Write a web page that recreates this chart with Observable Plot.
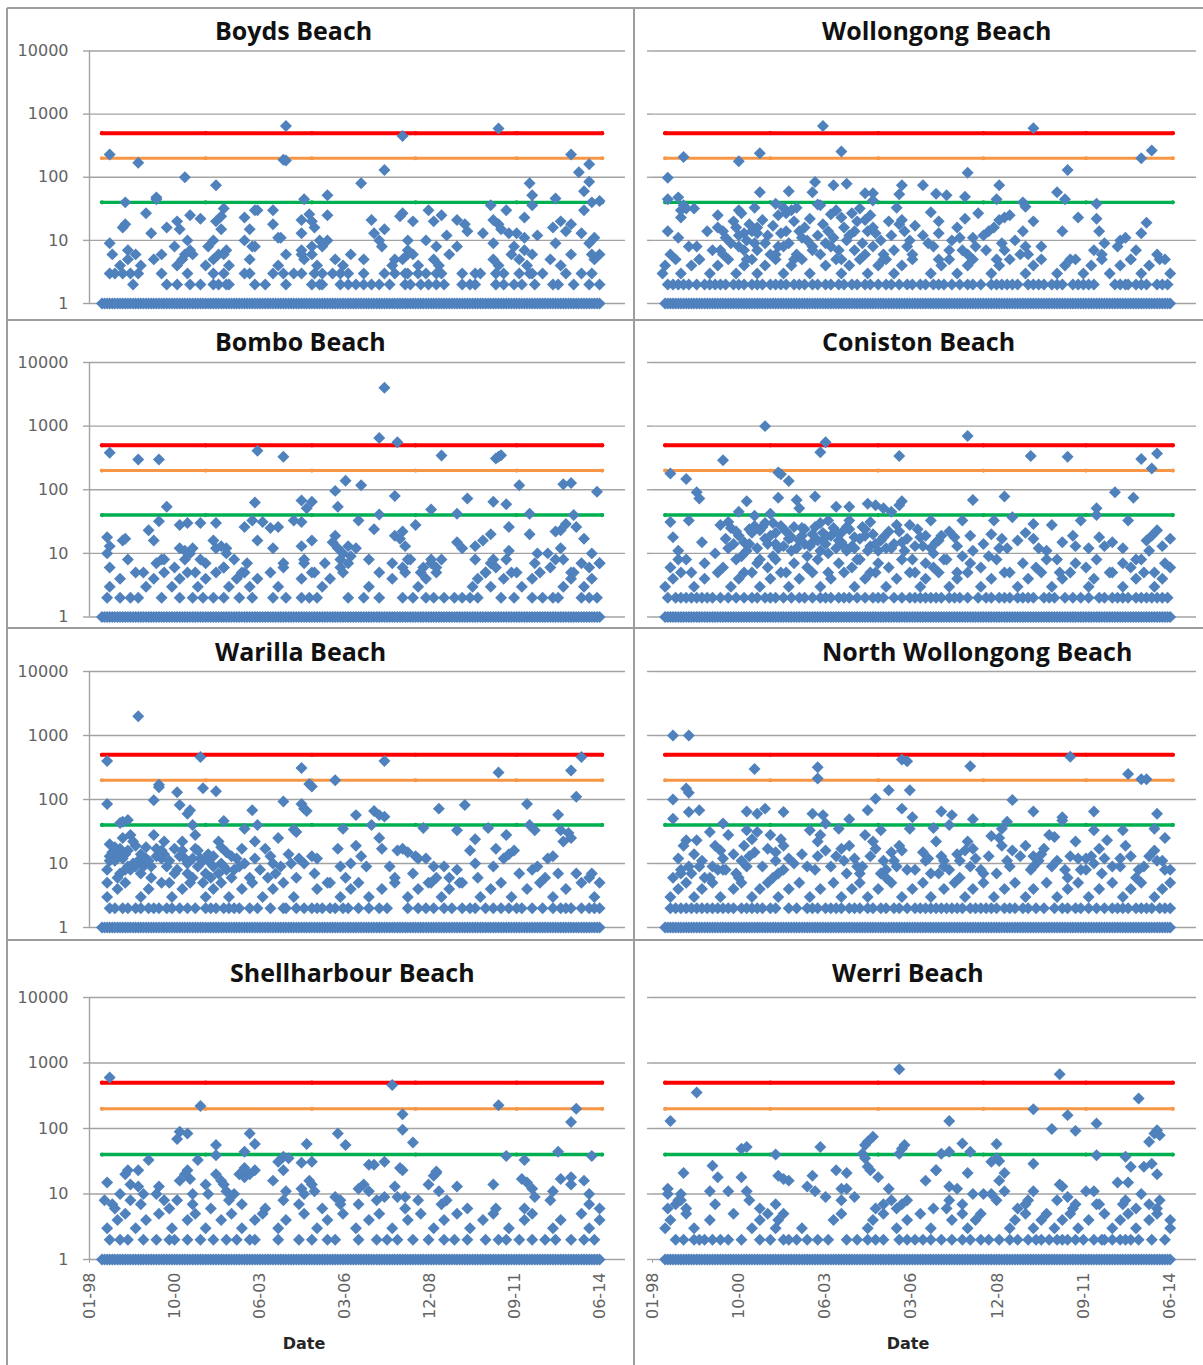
<!DOCTYPE html>
<html>
<head>
<meta charset="utf-8">
<script src="https://cdn.jsdelivr.net/npm/d3@7"></script>
<script src="https://cdn.jsdelivr.net/npm/@observablehq/plot@0.6"></script>
<style>
  html, body { margin: 0; padding: 0; background: #fff; }
  #page { position: relative; width: 1203px; height: 1365px; overflow: hidden; background: #fff; }
  .cell { position: absolute; }
  #overlay { position: absolute; left: 0; top: 0; pointer-events: none; }
</style>
</head>
<body>
<div id="page"></div>
<script>
// Enterococci results (cfu/100 mL) at Illawarra beaches.
// x = months since January 1998, value = sample result. Results of 1 or less sit on the baseline.

// Sampling rounds with a result of 1 or less
const sampleMonths = [
  5,6,7,8,9,10,11,12,13,14,15,16,17,18,19,20,21,22,23,24,25,26,27,28,29,30,31,32,33,34,35,36,37,38,39,40,
  41,42,43,44,45,46,47,48,49,50,51,52,53,54,55,56,57,58,59,60,61,62,63,64,65,66,67,68,69,70,71,72,73,74,75,
  76,77,78,79,80,81,82,83,84,85,86,87,88,89,90,91,92,93,94,95,96,97,98,99,100,101,102,103,104,105,106,107,
  108,109,110,111,112,113,114,115,116,117,118,119,120,121,122,123,124,125,126,127,128,129,130,131,132,133,
  134,135,136,137,138,139,140,141,142,143,144,145,146,147,148,149,150,151,152,153,154,155,156,157,158,159,
  160,161,162,163,164,165,166,167,168,169,170,171,172,173,174,175,176,177,178,179,180,181,182,183,184,185,
  186,187,188,189,190,191,192,193,194,195,196,197
];

const boyds = [
  [8,230],[19,170],[37,100],[49,75],[76,650],[75,190],[76,185],[121,450],[114,130],[105,80],[92,52],[158,590],
  [170,80],[171,52],[171,36],[186,230],[189,120],[193,160],[193,85],[191,60],[197,42],[194,40],[180,46],[83,45],
  [155,36],[14,40],[26,45],[26,48],[52,32],[92,25],
  [8,9],[13,16],[14,18],[22,27],[24,13],[30,16],[34,20],[35,15],[39,25],[38,10],[43,22],[49,20],[51,24],[48,10],
  [51,15],[60,23],[64,30],[65,30],[62,15],[60,10],[63,8],[71,30],[71,18],[73,11],[74,11],[82,21],[85,26],[86,20],
  [87,16],[82,13],[89,10],[92,10],[82,6],[86,8],[109,21],[110,13],[114,15],[112,10],[113,8],[118,5],[121,27],
  [120,24],[123,10],[125,20],[130,10],[131,30],[133,20],[136,25],[134,8],[138,12],[142,21],[145,18],[146,14],
  [142,8],[152,13],[156,21],[158,18],[159,15],[162,13],[156,9],[161,30],[165,13],[168,23],[168,11],[173,12],
  [179,16],[182,20],[186,18],[180,9],[184,14],[191,30],[190,13],[195,11],[193,9],
  [17,2],[30,2],[34,2],[39,2],[43,2],[48,2],[50,2],[53,2],[54,2],[64,2],[68,2],[76,2],[86,2],[89,2],[90,2],
  [97,2],[100,2],[103,2],[106,2],[109,2],[112,2],[116,2],[122,2],[124,2],[128,2],[131,2],[134,2],[137,2],
  [144,2],[147,2],[149,2],[157,2],[160,2],[164,2],[167,2],[172,2],[179,2],[181,2],[187,2],[193,2],[197,2],
  [8,3],[10,3],[13,3],[16,3],[19,3],[28,3],[38,3],[48,3],[52,3],[60,3],[62,3],[71,3],[75,3],[79,3],[82,3],
  [87,3],[90,3],[94,3],[97,3],[100,3],[106,3],[114,3],[118,3],[122,3],[123,3],[127,3],[130,3],[134,3],[136,3],
  [144,3],[149,3],[151,3],[157,3],[160,3],[166,3],[170,3],[171,3],[175,3],[184,3],[190,3],[194,3],
  [12,4],[15,5],[18,6],[20,4],[25,5],[28,6],[34,4],[36,5],[40,6],[45,4],[48,5],[52,6],[54,4],[62,5],[73,4],
  [83,5],[86,6],[88,4],[95,5],[98,4],[101,6],[106,5],[117,4],[121,5],[123,6],[127,4],[133,5],[135,4],[139,6],
  [156,5],[158,4],[163,6],[166,5],[169,4],[171,6],[178,5],[182,4],[186,6],[195,5],[197,6],
  [9,6],[15,7],[33,8],[37,6],[39,7],[46,8],[50,6],[53,7],[64,8],[76,6],[82,7],[90,8],[123,7],[125,6],[164,8],
  [168,7],[194,6]
];

const wollongong = [
  [65,650],[145,600],[12,210],[33,180],[41,240],[72,255],[186,200],[190,265],[120,118],[158,130],[6,98],[6,45],
  [10,48],[12,36],[13,32],[16,32],[41,58],[52,60],[61,58],[62,84],[64,36],[69,75],[74,79],[81,56],[84,56],
  [95,75],[94,54],[103,75],[108,55],[112,52],[119,49],[132,75],[131,45],[141,40],[142,34],[154,58],[157,45],
  [169,38],[63,37],[84,43],
  [6,14],[10,11],[11,23],[11,30],[17,8],[21,14],[25,25],[25,16],[27,14],[32,16],[33,30],[34,27],[35,13],[36,10],
  [38,14],[39,33],[40,16],[40,13],[43,9],[47,38],[48,25],[49,13],[50,33],[51,27],[53,30],[54,20],[55,33],[56,14],
  [57,11],[59,10],[61,8],[67,14],[70,30],[72,23],[73,16],[74,10],[76,27],[77,14],[79,32],[81,21],[82,14],[83,25],
  [85,13],[88,6],[93,33],[94,18],[95,21],[97,8],[106,28],[109,20],[109,13],[114,10],[117,11],[119,22],[122,11],
  [124,27],[128,14],[130,16],[132,21],[134,23],[136,25],[141,14],[142,8],[145,20],[156,14],[162,23],[169,22],
  [170,14],[172,9],[178,10],[180,11],[186,13],[188,19],
  [26,7],[28,11],[30,9],[31,20],[33,12],[35,7],[37,18],[39,9],[42,21],[44,12],[45,6],[46,17],[48,8],[51,14],
  [52,9],[55,6],[58,16],[60,22],[63,12],[65,18],[66,9],[68,26],[69,11],[71,7],[75,12],[78,20],[80,9],[84,16],
  [87,10],[90,20],[91,12],[96,14],[98,10],[100,17],[103,12],[105,9],[116,16],[118,7],[126,12],[127,7],[133,9],
  [138,10],[140,6],
  [6,2],[10,2],[14,2],[17,2],[22,2],[26,2],[28,2],[31,2],[38,2],[42,2],[45,2],[49,2],[56,2],[58,2],[61,2],
  [63,2],[71,2],[73,2],[81,2],[83,2],[86,2],[89,2],[94,2],[97,2],[102,2],[109,2],[111,2],[114,2],[117,2],
  [129,2],[131,2],[135,2],[139,2],[143,2],[149,2],[152,2],[154,2],[162,2],[164,2],[168,2],[178,2],[181,2],
  [184,2],[192,2],[196,2],
  [8,2],[12,2],[20,2],[24,2],[33,2],[35,2],[40,2],[47,2],[51,2],[54,2],[66,2],[68,2],[76,2],[78,2],[91,2],
  [99,2],[104,2],[107,2],[120,2],[122,2],[125,2],[133,2],[137,2],[145,2],[147,2],[156,2],[160,2],[166,2],
  [176,2],[180,2],[186,2],[188,2],[194,2],
  [4,3],[5,4],[9,5],[11,3],[15,4],[18,5],[22,3],[25,4],[29,5],[32,3],[35,4],[38,5],[40,3],[43,4],[47,5],[50,3],
  [53,4],[57,5],[60,3],[66,4],[70,5],[72,3],[75,4],[79,5],[82,3],[86,4],[89,5],[92,3],[95,4],[99,5],[106,3],
  [110,4],[113,5],[116,3],[120,4],[122,5],[129,3],[132,4],[136,5],[142,3],[145,4],[148,5],[154,3],[157,4],
  [159,5],[164,3],[167,4],[171,5],[174,3],[178,4],[182,5],[186,3],[189,4],[193,5],[197,3],
  [7,6],[14,8],[18,5],[23,7],[27,6],[33,8],[36,5],[40,7],[47,6],[50,8],[54,5],[61,7],[64,6],[68,8],[72,5],
  [77,7],[81,6],[84,8],[88,5],[92,7],[99,6],[107,8],[109,5],[113,7],[120,6],[123,8],[131,5],[134,7],[143,6],
  [148,8],[161,5],[168,7],[171,6],[177,8],[182,5],[184,7],[192,6],[195,5]
];

const bombo = [
  [114,4000],[112,650],[119,560],[8,380],[19,300],[27,300],[65,410],[75,330],[136,345],[157,310],[159,350],
  [158,330],[99,138],[105,118],[95,96],[118,80],[166,118],[183,122],[186,128],[196,93],[146,73],[156,65],
  [161,59],[64,63],[30,54],[96,54],[132,49],[142,42],[170,42],[187,40],[112,41],[82,68],[86,65],[84,51],
  [82,31],[79,33],[27,32],[63,33],[67,31],[104,33],[110,24],[126,28],[162,26],[180,22],[182,23],[184,29],
  [188,26],[49,30],[60,26],[43,30],[35,28],[38,30],[70,25],[73,26],
  [7,18],[8,13],[7,10],[13,16],[14,17],[23,23],[25,16],[29,8],[28,8],[35,12],[37,11],[39,10],[40,12],[43,8],
  [48,16],[49,12],[51,13],[53,12],[53,10],[52,6],[65,16],[71,12],[75,7],[82,13],[86,16],[83,7],[95,19],[94,15],
  [96,12],[98,10],[97,8],[100,13],[101,9],[100,7],[103,12],[118,19],[120,17],[122,13],[121,22],[123,8],[142,15],
  [144,12],[149,13],[152,16],[155,20],[156,8],[162,11],[170,20],[173,10],[177,10],[182,12],[183,8],[191,17],
  [194,10],[197,7],[136,8],[132,8],[129,6],
  [7,2],[12,2],[16,2],[19,2],[28,2],[35,2],[40,2],[44,2],[48,2],[52,2],[58,2],[63,2],[71,2],[76,2],[82,2],
  [85,2],[88,2],[100,2],[106,2],[112,2],[121,2],[125,2],[130,2],[133,2],[137,2],[141,2],[144,2],[147,2],
  [150,2],[159,2],[164,2],[171,2],[175,2],[179,2],[181,2],[190,2],[193,2],[196,2],
  [8,3],[12,4],[18,5],[22,3],[25,4],[29,5],[32,3],[35,4],[38,5],[42,3],[45,4],[49,5],[54,3],[57,4],[60,5],
  [62,3],[65,4],[70,5],[73,3],[82,4],[87,5],[90,3],[93,4],[98,5],[108,3],[117,4],[122,5],[127,3],[130,4],
  [134,5],[148,3],[150,4],[153,5],[155,3],[160,4],[163,5],[167,3],[171,4],[174,5],[183,3],[186,4],[187,5],
  [191,3],[194,4],
  [8,6],[15,8],[21,5],[26,7],[33,6],[37,8],[41,5],[45,7],[52,6],[56,8],[59,5],[61,7],[75,6],[83,8],[86,5],
  [91,7],[97,6],[108,8],[112,5],[117,7],[121,6],[124,8],[128,5],[132,7],[134,6],[149,8],[153,5],[155,7],
  [157,6],[161,8],[165,5],[172,7],[178,6],[180,8],[186,5],[190,7],[193,6],[197,7]
];

const coniston = [
  [43,1000],[120,700],[66,560],[64,390],[27,290],[94,340],[144,340],[158,330],[186,305],[192,370],[190,215],
  [7,180],[13,147],[48,187],[49,175],[52,137],[17,91],[18,73],[62,78],[122,69],[134,78],[176,91],[183,75],
  [36,66],[48,75],[55,69],[56,51],[70,54],[75,54],[82,60],[85,57],[88,51],[91,45],[95,66],[94,57],[118,33],
  [137,37],[169,51],[169,40],[181,33],[7,31],[14,33],[26,28],[29,31],[33,45],[39,39],[45,42],[67,33],[75,33],
  [83,31],[93,28],[98,28],[106,33],[130,33],[145,29],[152,28],[163,33],[192,23],
  [8,18],[10,11],[13,8],[19,15],[24,10],[29,12],[33,19],[35,15],[36,11],[38,21],[40,12],[41,8],[43,17],[46,9],
  [47,21],[50,13],[52,17],[53,11],[55,12],[57,19],[59,9],[61,15],[64,11],[68,19],[70,12],[72,21],[74,11],
  [76,13],[78,8],[81,19],[83,13],[86,11],[89,12],[95,15],[96,11],[99,8],[104,19],[107,10],[110,19],[111,8],
  [115,18],[118,9],[122,11],[129,20],[132,12],[133,17],[142,21],[145,17],[150,11],[154,8],[156,15],[161,13],
  [170,18],[172,13],[179,12],[188,16],[189,11],[194,13],[197,17],[184,8],
  [30,25],[31,14],[37,24],[39,27],[42,26],[44,14],[46,30],[48,12],[51,22],[54,26],[56,16],[58,24],[60,13],
  [62,26],[63,16],[65,21],[66,14],[69,25],[71,16],[73,13],[75,24],[77,18],[80,26],[82,11],[84,20],[87,16],
  [90,22],[92,14],[97,17],[101,24],[103,13],[108,15],[113,22],[116,13],[121,19],[126,14],[128,9],[135,12],
  [139,16],[147,12],[160,19],[166,12],[175,15],[190,19],
  [28,17],[32,22],[34,9],[37,14],[41,23],[43,30],[45,19],[47,14],[49,27],[53,18],[57,25],[58,14],[61,20],
  [64,30],[66,18],[67,10],[70,22],[72,15],[74,26],[77,12],[79,17],[81,24],[85,14],[88,18],[91,12],[94,22],
  [100,13],[102,18],[106,12],[109,16],
  [6,2],[13,2],[17,2],[21,2],[23,2],[29,2],[32,2],[38,2],[43,2],[47,2],[53,2],[56,2],[64,2],[68,2],[71,2],
  [75,2],[84,2],[88,2],[92,2],[98,2],[102,2],[106,2],[110,2],[113,2],[117,2],[120,2],[124,2],[129,2],[132,2],
  [136,2],[141,2],[145,2],[149,2],[153,2],[157,2],[166,2],[170,2],[172,2],[177,2],[181,2],[184,2],[188,2],
  [192,2],[196,2],
  [9,2],[11,2],[15,2],[19,2],[26,2],[35,2],[40,2],[45,2],[50,2],[58,2],[61,2],[66,2],[73,2],[78,2],[81,2],
  [86,2],[95,2],[100,2],[104,2],[108,2],[115,2],[127,2],[134,2],[139,2],[143,2],[151,2],[160,2],[163,2],
  [175,2],[179,2],[186,2],[190,2],[194,2],
  [5,3],[8,4],[11,5],[16,3],[20,4],[25,5],[30,3],[33,4],[38,5],[41,3],[45,4],[49,5],[52,3],[56,4],[61,5],
  [64,3],[68,4],[73,5],[77,3],[81,4],[85,5],[89,3],[93,4],[98,5],[102,3],[104,4],[109,5],[113,3],[116,4],
  [120,5],[125,3],[129,4],[134,5],[139,3],[143,4],[148,5],[152,3],[156,4],[159,5],[166,3],[168,4],[175,5],
  [179,3],[184,4],[187,5],[191,3],[194,4],
  [7,6],[10,8],[15,5],[20,7],[27,6],[32,8],[35,5],[40,7],[44,6],[47,8],[51,5],[54,7],[59,6],[63,8],[67,5],
  [71,7],[76,6],[79,8],[83,5],[86,7],[90,6],[95,8],[100,5],[104,7],[107,6],[112,8],[116,5],[121,7],[125,6],
  [131,8],[136,5],[141,7],[146,6],[150,8],[155,5],[161,7],[165,6],[169,8],[174,5],[179,7],[182,6],[186,8],
  [191,5],[195,7],[197,6]
];

const warilla = [
  [19,2000],[7,400],[43,460],[114,400],[190,460],[82,310],[158,265],[186,285],[95,200],[85,175],[86,160],
  [27,170],[27,155],[44,150],[49,135],[34,130],[188,110],[25,97],[7,85],[75,93],[82,85],[83,72],[84,66],[35,82],
  [135,72],[145,82],[169,85],[103,57],[110,66],[112,57],[114,54],[109,40],[181,58],[38,60],[39,68],[63,68],
  [52,46],[13,45],[15,48],[12,43],[40,40],[60,35],[65,40],[79,34],[80,31],[98,35],[129,36],[142,33],[154,36],
  [170,40],[172,33],[182,33],[185,30],[186,25],[161,28],
  [8,20],[8,13],[7,8],[12,17],[13,12],[15,9],[12,7],[16,28],[18,19],[17,10],[20,7],[22,12],[25,28],[26,17],
  [28,12],[30,9],[33,17],[36,22],[37,12],[38,10],[41,28],[41,17],[43,12],[45,7],[48,13],[50,22],[51,10],[53,15],
  [56,8],[59,17],[60,10],[64,22],[64,12],[68,17],[70,13],[71,10],[73,25],[74,9],[78,10],[81,12],[83,10],[86,13],
  [88,12],[92,5],[96,17],[97,9],[101,10],[103,19],[105,13],[107,9],[112,25],[113,17],[116,9],[119,16],[121,17],
  [123,15],[126,13],[127,12],[130,12],[133,9],[137,9],[139,6],[142,8],[147,16],[149,24],[149,10],[156,9],
  [157,17],[160,12],[162,14],[164,16],[171,8],[173,9],[177,12],[179,13],[183,22],[181,7],[193,6],[194,7],[197,5],
  [9,15],[10,11],[11,6],[14,14],[16,8],[19,11],[21,9],[24,6],[29,14],[31,5],[34,8],[40,6],[42,9],[44,5],
  [46,11],[47,6],[50,7],[52,9],[55,6],[57,12],[62,6],[66,8],[69,6],[72,7],[77,14],[80,6],[87,7],[99,6],
  [118,6],[125,7],[131,5],[134,6],[143,5],[150,6],[166,7],[176,6],[188,7],
  [7,5],[8,11],[10,18],[11,13],[13,25],[14,8],[15,16],[17,22],[18,9],[20,14],[22,18],[23,11],[24,9],[26,13],
  [28,16],[29,22],[31,11],[33,7],[35,13],[36,16],[38,7],[40,12],[42,16],[44,11],[46,14],[48,9],[51,18],[53,8],
  [55,13],[58,9],
  [8,2],[13,2],[18,2],[23,2],[27,2],[32,2],[38,2],[45,2],[49,2],[54,2],[58,2],[65,2],[75,2],[76,2],[83,2],
  [86,2],[90,2],[95,2],[100,2],[108,2],[112,2],[123,2],[130,2],[137,2],[144,2],[149,2],[153,2],[156,2],
  [162,2],[167,2],[175,2],[182,2],[186,2],[193,2],[197,2],
  [10,2],[15,2],[20,2],[25,2],[30,2],[35,2],[41,2],[47,2],[52,2],[56,2],[62,2],[70,2],[80,2],[88,2],[93,2],
  [98,2],[104,2],[115,2],[127,2],[133,2],[140,2],[147,2],[159,2],[165,2],[171,2],[179,2],[184,2],[190,2],
  [195,2],
  [7,3],[11,4],[14,5],[20,3],[23,4],[28,5],[32,3],[36,4],[39,5],[45,3],[48,4],[51,5],[54,3],[59,4],[63,5],
  [67,3],[71,4],[75,5],[79,3],[88,4],[93,5],[97,3],[101,4],[104,5],[108,3],[113,4],[118,5],[123,3],[127,4],
  [132,5],[136,3],[139,4],[144,5],[151,3],[155,4],[159,5],[163,3],[169,4],[174,5],[179,3],[184,4],[190,5],
  [195,3]
];

const northWollongong = [
  [8,1000],[14,1000],[95,420],[97,395],[121,330],[159,465],[39,300],[63,320],[63,212],[181,250],[186,207],
  [188,207],[13,148],[14,128],[8,100],[98,139],[90,139],[85,103],[137,98],[8,50],[14,64],[18,68],[36,65],
  [40,60],[43,72],[50,64],[61,60],[65,57],[75,49],[82,68],[95,72],[99,53],[98,35],[110,65],[114,57],[113,40],
  [122,49],[135,45],[145,65],[156,53],[156,47],[168,65],[192,60],[27,42],[71,35],[107,36],[133,35],[168,33],
  [179,33],[191,35],[195,25],[60,33],[64,28],[87,33],[66,42],
  [13,23],[17,23],[12,19],[22,31],[24,19],[27,12],[25,8],[29,28],[34,11],[35,19],[36,33],[38,24],[39,15],
  [40,31],[45,28],[47,11],[47,15],[49,24],[50,19],[52,12],[59,9],[63,22],[63,13],[70,13],[72,17],[73,11],
  [75,19],[79,7],[81,28],[84,22],[85,17],[88,11],[89,8],[92,11],[94,19],[95,16],[103,15],[104,11],[108,22],
  [110,13],[111,11],[113,8],[117,11],[119,16],[120,22],[122,17],[123,12],[129,27],[132,25],[133,19],[135,11],
  [137,16],[142,19],[145,13],[147,11],[149,17],[151,28],[153,26],[154,11],[157,8],[161,22],[162,12],[165,12],
  [167,13],[170,17],[172,12],[173,23],[180,19],[182,13],[185,8],[191,16],[192,11],[197,8],
  [10,12],[11,7],[14,9],[16,14],[19,11],[20,6],[23,9],[26,16],[28,8],[31,14],[33,6],[37,13],[42,9],[44,17],
  [48,7],[54,10],[57,14],[62,8],[66,16],[68,9],[77,12],[80,9],[83,13],[87,7],[91,15],[93,9],[100,8],[105,12],
  [109,7],[116,14],[121,9],[126,7],[128,13],[136,9],[140,13],[144,8],[148,14],[152,9],[159,13],[163,8],
  [168,10],[175,9],[178,12],[187,9],[189,13],[194,11],
  [9,2],[13,2],[17,2],[21,2],[25,2],[29,2],[34,2],[38,2],[42,2],[47,2],[52,2],[59,2],[63,2],[68,2],[72,2],
  [75,2],[79,2],[84,2],[89,2],[94,2],[97,2],[102,2],[106,2],[110,2],[114,2],[118,2],[123,2],[127,2],[131,2],
  [134,2],[138,2],[143,2],[146,2],[153,2],[156,2],[161,2],[169,2],[172,2],[177,2],[181,2],[186,2],[190,2],
  [195,2],
  [7,2],[11,2],[15,2],[19,2],[23,2],[27,2],[31,2],[36,2],[40,2],[45,2],[55,2],[61,2],[66,2],[70,2],[77,2],
  [82,2],[87,2],[92,2],[100,2],[104,2],[108,2],[112,2],[116,2],[121,2],[125,2],[129,2],[136,2],[141,2],
  [149,2],[158,2],[163,2],[166,2],[175,2],[179,2],[184,2],[188,2],[193,2],[197,2],
  [7,3],[10,4],[13,5],[16,3],[19,4],[23,5],[26,3],[31,4],[34,5],[38,3],[41,4],[44,5],[48,3],[52,4],[56,5],
  [60,3],[64,4],[69,5],[72,3],[76,4],[79,5],[82,3],[86,4],[91,5],[95,3],[99,4],[103,5],[106,3],[111,4],
  [115,5],[119,3],[122,4],[126,5],[130,3],[134,4],[138,5],[142,3],[145,4],[150,5],[154,3],[158,4],[162,5],
  [166,3],[170,4],[175,5],[179,3],[182,4],[186,5],[191,3],[194,4],[197,5],
  [8,6],[11,8],[15,7],[18,9],[22,6],[27,8],[32,7],[36,9],[46,6],[50,8],[74,7],[78,9],[89,6],[97,8],[106,7],
  [111,9],[117,6],[125,8],[131,7],[145,9],[158,6],[165,8],[171,7],[178,9],[184,6],[195,8]
];

const shellharbour = [
  [8,600],[117,460],[43,220],[158,226],[188,201],[186,126],[121,165],[121,96],[125,61],[35,89],[38,84],[34,69],
  [62,84],[64,58],[96,84],[99,56],[49,56],[84,58],[161,38],[168,33],[181,44],[194,38],[60,44],[23,33],[42,33],
  [49,39],[73,31],[75,37],[77,35],[82,30],[86,31],[108,28],[110,28],[114,31],[120,25],[134,21],
  [7,15],[6,8],[9,7],[14,20],[15,23],[16,14],[12,10],[19,23],[19,13],[21,10],[27,13],[26,10],[29,8],[35,16],
  [37,20],[38,23],[39,17],[40,10],[45,14],[46,10],[49,20],[51,16],[52,14],[53,11],[56,10],[58,20],[60,18],
  [62,20],[64,23],[60,25],[71,16],[75,23],[76,11],[82,12],[83,10],[85,16],[86,14],[87,11],[95,9],[97,7],
  [104,12],[106,14],[108,11],[111,8],[114,9],[118,13],[119,9],[121,23],[122,9],[131,14],[133,19],[134,22],
  [135,11],[138,8],[142,13],[146,6],[156,14],[157,6],[167,17],[169,15],[171,12],[172,9],[179,11],[182,17],
  [186,18],[186,14],[191,16],[193,10],[193,7],[197,6],
  [8,2],[12,2],[15,2],[21,2],[26,2],[31,2],[33,2],[38,2],[43,2],[48,2],[53,2],[57,2],[62,2],[64,2],[73,2],
  [81,2],[86,2],[92,2],[95,2],[104,2],[111,2],[115,2],[119,2],[125,2],[131,2],[137,2],[141,2],[146,2],
  [153,2],[158,2],[161,2],[166,2],[171,2],[176,2],[180,2],[186,2],[191,2],[195,2],
  [7,3],[11,4],[14,5],[18,3],[22,4],[27,5],[32,3],[38,4],[41,5],[45,3],[51,4],[55,5],[59,3],[64,4],[67,5],
  [73,3],[76,4],[83,5],[88,3],[92,4],[98,5],[103,3],[108,4],[112,5],[117,3],[123,4],[128,5],[133,3],[137,4],
  [142,5],[147,3],[152,4],[156,5],[162,3],[168,4],[171,5],[179,3],[182,4],[190,5],[193,3],[197,4],
  [10,6],[16,8],[20,7],[31,6],[34,8],[40,7],[47,6],[54,8],[59,7],[68,6],[75,8],[81,7],[90,6],[97,8],[104,7],
  [122,6],[127,8],[136,7],[168,6],[178,8]
];

const werri = [
  [94,800],[155,675],[17,355],[185,287],[145,197],[158,160],[7,130],[113,130],[152,98],[161,92],[169,119],
  [192,94],[193,79],[189,63],[191,84],[84,75],[82,63],[81,56],[64,52],[34,49],[36,52],[47,40],[94,41],[95,49],
  [96,56],[118,59],[131,58],[110,41],[113,44],[121,44],[169,39],[180,37],[145,29],[129,31],[131,35],[132,32],
  [80,41],[81,35],[82,26],[83,23],[187,26],[190,29],[192,20],[182,26],[108,23],
  [6,12],[6,10],[12,21],[11,10],[10,8],[23,27],[25,18],[22,11],[29,11],[34,18],[36,11],[48,19],[50,17],[52,16],
  [59,13],[61,19],[62,11],[66,9],[70,23],[74,21],[72,12],[74,12],[77,9],[86,18],[90,12],[104,16],[108,23],
  [113,13],[116,12],[113,8],[112,6],[120,21],[122,10],[126,10],[129,10],[132,16],[134,21],[134,11],[145,11],
  [143,8],[155,14],[156,13],[158,9],[161,7],[165,11],[168,11],[169,7],[177,15],[181,15],[179,7],[186,10],
  [192,6],[197,4],
  [9,2],[16,2],[20,2],[23,2],[26,2],[34,2],[41,2],[50,2],[52,2],[59,2],[63,2],[74,2],[78,2],[85,2],[94,2],
  [100,2],[103,2],[106,2],[114,2],[118,2],[121,2],[125,2],[132,2],[139,2],[143,2],[148,2],[154,2],[156,2],
  [161,2],[168,2],[171,2],[172,2],[178,2],[182,2],[185,2],[195,2],
  [12,2],[18,2],[29,2],[45,2],[55,2],[67,2],[82,2],[88,2],[97,2],[110,2],[128,2],[136,2],[146,2],[151,2],
  [158,2],[164,2],[175,2],[180,2],[190,2],
  [5,3],[7,4],[13,5],[16,3],[22,4],[31,5],[38,3],[41,4],[44,5],[47,3],[48,4],[50,5],[57,3],[69,4],[72,5],
  [82,3],[84,4],[88,5],[93,3],[97,4],[102,5],[106,3],[114,4],[118,5],[120,3],[123,4],[125,5],[136,3],[138,4],
  [142,5],[145,3],[148,4],[150,5],[153,3],[156,4],[159,5],[162,3],[166,4],[172,5],[175,3],[178,4],[181,5],
  [184,3],[189,4],[192,5],[197,3],
  [6,6],[9,7],[11,8],[13,6],[24,7],[37,8],[41,6],[47,7],[72,8],[85,6],[88,7],[91,8],[93,6],[95,7],[97,8],
  [107,6],[118,7],[131,8],[139,6],[142,7],[154,8],[160,6],[170,7],[180,8],[184,6],[189,7],[193,8]
];

// Guideline levels and the dates the guideline series is defined at
const limitValues = [500, 200, 40];
const limitMonths = [5, 45, 86, 126, 165, 198];

// Axes
const gridValues = [1, 10, 100, 1000, 10000];
const tickMonths = [0.2, 33, 65.8, 98.6, 131.4, 164.2, 197];
const tickLabels = ["01-98", "10-00", "06-03", "03-06", "12-08", "09-11", "06-14"];
const xDomain = [0.2, 207];

// ---- layout ----
const limitStyle = {500: {stroke: "#ff0000", width: 4}, 200: {stroke: "#f79646", width: 3}, 40: {stroke: "#00b050", width: 3.4}};
const gridColor = "#a3a3a3";
const blue = "#4f81bd";

const rows = [
  {top: 0,   h: 320, yTop: 50.5, yBottom: 303,   titleY: 40},
  {top: 320, h: 308, yTop: 362,  yBottom: 616.5, titleY: 351},
  {top: 628, h: 312, yTop: 671,  yBottom: 927,   titleY: 661},
  {top: 940, h: 425, yTop: 997,  yBottom: 1259,  titleY: 982}
];
const cols = [
  {left: 0,   w: 634, x0: 89,  x1: 625},
  {left: 634, w: 569, x0: 652, x1: 1196}
];

const panels = [
  {title: "Boyds Beach", data: boyds, row: 0, col: 0, tx: 215},
  {title: "Wollongong Beach", data: wollongong, row: 0, col: 1, tx: 822},
  {title: "Bombo Beach", data: bombo, row: 1, col: 0, tx: 215},
  {title: "Coniston Beach", data: coniston, row: 1, col: 1, tx: 822},
  {title: "Warilla Beach", data: warilla, row: 2, col: 0, tx: 215},
  {title: "North Wollongong Beach", data: northWollongong, row: 2, col: 1, tx: 822},
  {title: "Shellharbour Beach", data: shellharbour, row: 3, col: 0, tx: 230},
  {title: "Werri Beach", data: werri, row: 3, col: 1, tx: 832}
];

const page = document.getElementById("page");

for (const p of panels) {
  const r = rows[p.row], c = cols[p.col];
  const isLeft = p.col === 0;
  const isBottom = p.row === 3;
  const points = [
    ...sampleMonths.map(m => ({m, v: 1})),
    ...p.data.map(([m, v]) => ({m, v}))
  ];
  const limitLines = limitValues.map(v => limitMonths.map(m => ({m, v})));

  const marks = [
    Plot.ruleY(gridValues, {stroke: gridColor, strokeWidth: 1.4}),
    Plot.axisY({
      ticks: gridValues,
      tickSize: isLeft ? 6 : 5,
      tickPadding: 15,
      tickFormat: isLeft ? d => d3.format("d")(d) : () => "",
      stroke: gridColor,
      strokeWidth: 1.4,
      fill: "#636363",
      label: null
    })
  ];
  if (isLeft) marks.push(Plot.ruleX([xDomain[0]], {y1: 1, y2: 10000, stroke: gridColor, strokeWidth: 1.4}));
  if (isBottom) {
    marks.push(Plot.axisX({
      ticks: tickMonths,
      tickFormat: d => tickLabels[tickMonths.indexOf(d)],
      tickRotate: -90,
      tickSize: 4,
      tickPadding: 9,
      stroke: gridColor,
      fill: "#636363",
      label: null
    }));
  }
  for (const line of limitLines) {
    const s = limitStyle[line[0].v];
    marks.push(Plot.line(line, {x: "m", y: "v", stroke: s.stroke, strokeWidth: s.width}));
    marks.push(Plot.dot(line, {x: "m", y: "v", r: 2.1, fill: s.stroke, stroke: "none"}));
  }
  marks.push(Plot.dot(points, {x: "m", y: "v", symbol: "diamond2", r: 5.4, fill: blue, stroke: "none"}));

  const chart = Plot.plot({
    width: c.w,
    height: r.h,
    marginLeft: c.x0 - c.left,
    marginRight: c.left + c.w - c.x1,
    marginTop: r.yTop - r.top,
    marginBottom: r.top + r.h - r.yBottom,
    x: {type: "linear", domain: xDomain, axis: null},
    y: {type: "log", domain: [1, 10000], axis: null},
    style: {background: "transparent", fontFamily: "DejaVu Sans", fontSize: "16px", overflow: "visible", maxWidth: "none"},
    marks
  });

  const cell = document.createElement("div");
  cell.className = "cell";
  cell.style.left = c.left + "px";
  cell.style.top = r.top + "px";
  cell.style.width = c.w + "px";
  cell.style.height = r.h + "px";
  cell.appendChild(chart);
  page.appendChild(cell);
}

// Frame lines, panel titles and the Date labels
const overlay = d3.select(page).append("svg")
  .attr("id", "overlay")
  .attr("width", 1203)
  .attr("height", 1365);

const frameColor = "#9d9d9d";
for (const y of [8, 320, 628, 940]) {
  overlay.append("line").attr("x1", 7).attr("x2", 1203).attr("y1", y).attr("y2", y)
    .attr("stroke", frameColor).attr("stroke-width", 2);
}
for (const x of [7, 634]) {
  overlay.append("line").attr("x1", x).attr("x2", x).attr("y1", 8).attr("y2", 1365)
    .attr("stroke", frameColor).attr("stroke-width", 2);
}

for (const p of panels) {
  overlay.append("text")
    .attr("x", p.tx)
    .attr("y", rows[p.row].titleY)
    .attr("font-family", "Open Sans")
    .attr("font-weight", 700)
    .attr("font-size", 25)
    .attr("fill", "#111")
    .text(p.title);
}

for (const x of [304, 908]) {
  overlay.append("text")
    .attr("x", x)
    .attr("y", 1349)
    .attr("text-anchor", "middle")
    .attr("font-family", "DejaVu Sans")
    .attr("font-weight", 700)
    .attr("font-size", 16)
    .attr("fill", "#262626")
    .text("Date");
}
</script>
</body>
</html>
